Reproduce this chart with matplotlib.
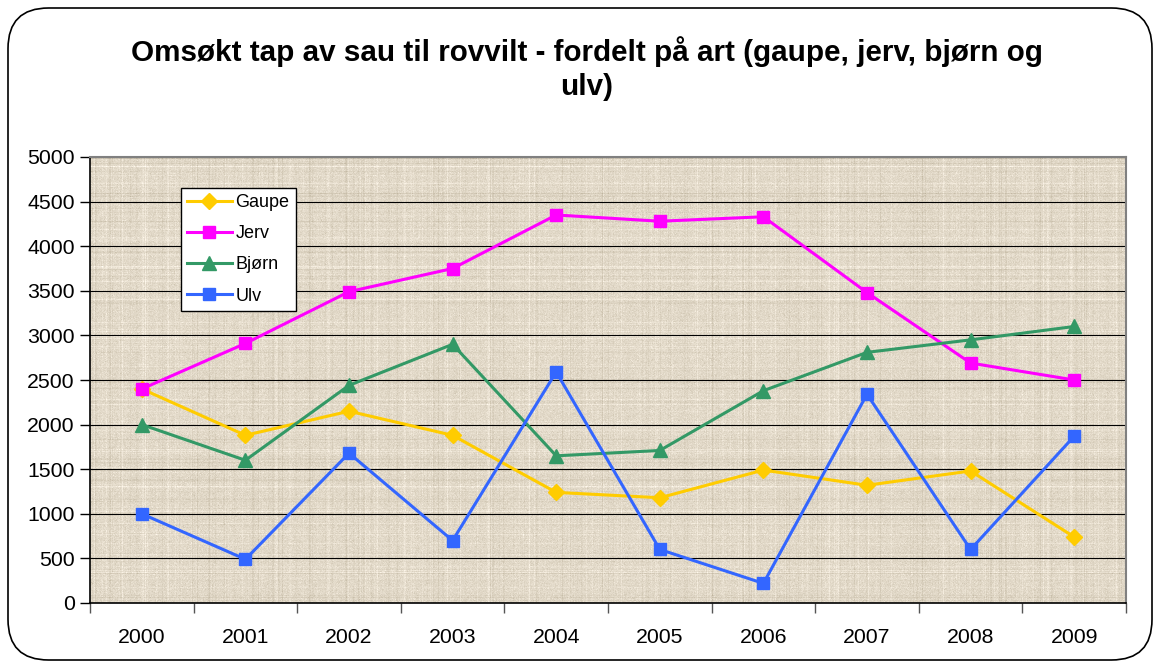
import numpy as np
import matplotlib
matplotlib.use("Agg")
import matplotlib.pyplot as plt
from matplotlib.patches import FancyBboxPatch

years = ["2000", "2001", "2002", "2003", "2004", "2005", "2006", "2007", "2008", "2009"]
gaupe = [2400, 1880, 2150, 1880, 1240, 1180, 1490, 1320, 1480, 740]
jerv = [2400, 2910, 3490, 3750, 4350, 4280, 4330, 3480, 2690, 2500]
bjorn = [2000, 1600, 2440, 2900, 1650, 1710, 2380, 2810, 2950, 3100]
ulv = [1000, 490, 1680, 700, 2590, 600, 220, 2340, 600, 1870]
series_names = ["Gaupe", "Jerv", "Bjørn", "Ulv"]
title = "Omsøkt tap av sau til rovvilt - fordelt på art (gaupe, jerv, bjørn og\nulv)"

plt.rcParams['font.family'] = ['Liberation Sans', 'DejaVu Sans']

fig = plt.figure(figsize=(11.6, 6.68), dpi=100)
fig.patch.set_facecolor('white')

# rounded outer border
border = FancyBboxPatch((8/1160, 8/668), 1144/1160, 652/668,
                        boxstyle="round,pad=0,rounding_size=0.035",
                        transform=fig.transFigure, fill=False,
                        edgecolor='black', linewidth=1.2, mutation_aspect=1160/668)
fig.patches.append(border)

ax = fig.add_axes([90/1160, 1 - 603/668, 1036/1160, 446/668])

# canvas texture background (decoration only)
rng = np.random.default_rng(3)
H, W = 446, 1036
base = np.ones((H, W, 3)) * np.array([0.885, 0.85, 0.785])
rows = rng.normal(0, 0.022, (H, 1)) * (rng.random((H, 1)) > 0.5)
cols = rng.normal(0, 0.022, (1, W)) * (rng.random((1, W)) > 0.5)
noise = rng.normal(0, 0.02, (H, W))
tex = base + (rows + cols + noise)[:, :, None] * np.array([1.0, 1.05, 1.2])
tex = np.clip(tex, 0, 1)
ax.imshow(tex, extent=[-0.5, 9.5, 0, 5000], aspect='auto', zorder=0, interpolation='bilinear')

x = np.arange(len(years))
ax.set_xlim(-0.5, 9.5)
ax.set_ylim(0, 5000)

for yv in range(500, 5001, 500):
    ax.axhline(yv, color='black', linewidth=0.8, zorder=1)

ax.plot(x, gaupe, color='#FFCC00', marker='D', markersize=8, linewidth=2.2, label=series_names[0], zorder=3)
ax.plot(x, jerv, color='#FF00FF', marker='s', markersize=9, linewidth=2.2, label=series_names[1], zorder=3)
ax.plot(x, bjorn, color='#339966', marker='^', markersize=10, linewidth=2.2, label=series_names[2], zorder=3)
ax.plot(x, ulv, color='#3366FF', marker='s', markersize=9, linewidth=2.2, label=series_names[3], zorder=3)

ax.set_yticks(range(0, 5001, 500))
ax.set_yticklabels([str(v) for v in range(0, 5001, 500)], fontsize=15.3)
ax.set_xticks(x)
ax.set_xticklabels(years, fontsize=15.3)
ax.set_xticks(np.arange(-0.5, 10, 1), minor=True)
ax.tick_params(axis='x', which='major', length=0, pad=18)
ax.tick_params(axis='x', which='minor', length=7, width=1, color='#555555')
ax.tick_params(axis='y', length=7, width=1, direction='out', pad=4)

for s in ['left', 'bottom']:
    ax.spines[s].set_color('black')
    ax.spines[s].set_linewidth(1.2)
for s in ['top', 'right']:
    ax.spines[s].set_color('#808080')
    ax.spines[s].set_linewidth(1.5)

leg = ax.legend(loc='upper left', bbox_to_anchor=(91/1036, (603-188)/446), fontsize=13,
                frameon=True, fancybox=False, edgecolor='black', framealpha=1,
                handlelength=2.45, handletextpad=0.22, labelspacing=0.78, borderpad=0.35,
                borderaxespad=0)
leg.get_frame().set_linewidth(1.0)

fig.text(0.506, 1 - 69/668, title, ha='center', va='center', fontsize=21.3,
         fontweight='bold', linespacing=1.27)

fig.savefig('out.png', dpi=100)
